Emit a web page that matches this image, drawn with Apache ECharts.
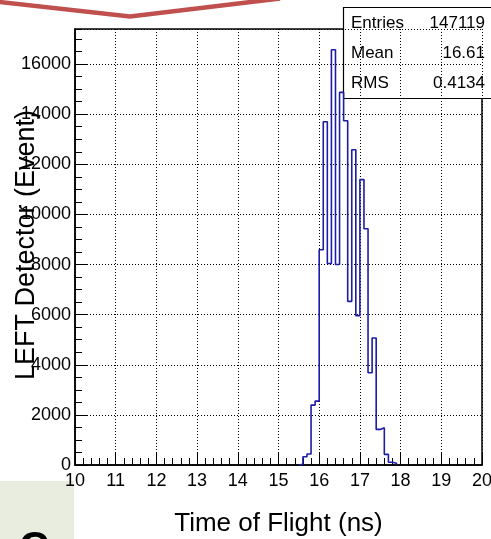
<!DOCTYPE html>
<html>
<head>
<meta charset="utf-8">
<script src="https://cdn.jsdelivr.net/npm/echarts@6/dist/echarts.min.js"></script>
<style>
  html, body { margin: 0; padding: 0; background: #fff; }
  #chart { width: 491px; height: 539px; }
</style>
</head>
<body>
<div id="chart"></div>
<script>
// Time-of-flight histogram, 0.1 ns bins (only non-empty bins listed)
const binWidth = 0.1;
const binStart = [15.5, 15.6, 15.7, 15.8, 15.9, 16.0, 16.1, 16.2, 16.3, 16.4, 16.5, 16.6,
                  16.7, 16.8, 16.9, 17.0, 17.1, 17.2, 17.3, 17.4, 17.5, 17.6, 17.7, 17.8];
const counts = [30, 330, 440, 2390, 2550, 8590, 13700, 8040, 16570, 8000, 14870, 13740,
                6530, 12580, 5960, 11390, 9430, 3680, 5070, 1420, 1490, 425, 110, 70];

// Statistics box
const statNames = ['Entries', 'Mean', 'RMS'];
const statValues = ['147119', '16.61', '0.4134'];

// Axis titles
const xTitle = 'Time of Flight (ns)';
const yTitle = 'LEFT Detector (Event)';

// Axis ranges
const xMin = 10, xMax = 20, xStep = 1;
const yMin = 0, yMax = 17400, yStep = 2000, yMinorStep = 500;

const FONT = "'Liberation Sans', Arial, Helvetica, sans-serif";

// Step outline: each bin is drawn at its count until the next bin edge
const stepData = [[binStart[0], 0]];
binStart.forEach((x, i) => stepData.push([x, counts[i]]));
stepData.push([binStart[binStart.length - 1] + binWidth, 0]);

const chart = echarts.init(document.getElementById('chart'), null, { renderer: 'canvas' });

const dotted = { color: '#000', width: 1, type: [1, 2] };

chart.setOption({
  animation: false,
  backgroundColor: '#fff',
  grid: {
    left: 75, right: 9, top: 29, bottom: 74,
    containLabel: false, outerBoundsMode: 'none',
    show: true, borderColor: '#000', borderWidth: 1.5, backgroundColor: 'transparent'
  },
  xAxis: {
    type: 'value', min: xMin, max: xMax, interval: xStep,
    name: xTitle, nameLocation: 'middle', nameGap: 46,
    nameTextStyle: { fontFamily: FONT, fontSize: 26, color: '#000' },
    axisLine: { show: true, lineStyle: { color: '#000', width: 1.5 } },
    axisTick: { show: true, inside: true, length: 12, lineStyle: { color: '#000', width: 1 } },
    minorTick: { show: true, splitNumber: 5, length: 7, lineStyle: { color: '#000', width: 1 } },
    axisLabel: { fontFamily: FONT, fontSize: 18, color: '#000', margin: 7 },
    splitLine: { show: true, lineStyle: dotted }
  },
  yAxis: [
    {
      type: 'value', min: yMin, max: yMax, interval: yStep,
      axisLine: { show: true, lineStyle: { color: '#000', width: 1.5 } },
      axisTick: { show: true, inside: true, length: 12, lineStyle: { color: '#000', width: 1 } },
      axisLabel: {
        fontFamily: FONT, fontSize: 18, color: '#000', margin: 4, showMaxLabel: false,
        formatter: v => (v % yStep === 0 ? String(v) : '')
      },
      splitLine: { show: true, lineStyle: dotted }
    },
    {
      // finer tick marks every 500 events
      type: 'value', min: yMin, max: yMax, interval: yMinorStep, position: 'left',
      axisLine: { show: false },
      axisTick: { show: true, inside: true, length: 7, lineStyle: { color: '#000', width: 1 } },
      axisLabel: { show: false },
      splitLine: { show: false }
    }
  ],
  series: [{
    type: 'line',
    step: 'end',
    data: stepData,
    showSymbol: false,
    symbol: 'none',
    lineStyle: { color: '#1c1ca6', width: 1.6 },
    z: 5
  }],
  graphic: [
    // y-axis title, drawn over the tick labels
    {
      type: 'text', z: 90, x: 27, y: 245, rotation: Math.PI / 2,
      style: { text: yTitle, fontFamily: FONT, fontSize: 27, fill: '#000', align: 'center', verticalAlign: 'middle' }
    },
    // red stroke along the top edge
    {
      type: 'polyline', z: 100,
      shape: { points: [[-5, 1.5], [130, 16.5], [280, -1.5]] },
      style: { stroke: '#c0504d', lineWidth: 4.5, fill: null, lineJoin: 'miter' }
    },
    // statistics box
    {
      type: 'group', z: 100,
      children: [
        { type: 'rect', shape: { x: 343.5, y: 7.5, width: 160, height: 91 },
          style: { fill: '#fff', stroke: '#000', lineWidth: 1.2 } }
      ].concat(statNames.map((n, i) => ({
        type: 'text', x: 351, y: 23 + i * 30,
        style: { text: n, fontFamily: FONT, fontSize: 17, fill: '#000', verticalAlign: 'middle', align: 'left' }
      }))).concat(statValues.map((v, i) => ({
        type: 'text', x: 485, y: 23 + i * 30,
        style: { text: v, fontFamily: FONT, fontSize: 17, fill: '#000', verticalAlign: 'middle', align: 'right' }
      })))
    },
    // pale panel in the lower-left corner
    {
      type: 'group', z: 100,
      children: [
        { type: 'rect', shape: { x: 0, y: 481, width: 74, height: 60 }, style: { fill: '#e9ede0' } },
        { type: 'text', x: 19, y: 528,
          style: { text: 'C', fontFamily: FONT, fontSize: 42, fontWeight: 'bold', fill: '#000', verticalAlign: 'top' } }
      ]
    }
  ]
});
</script>
</body>
</html>
